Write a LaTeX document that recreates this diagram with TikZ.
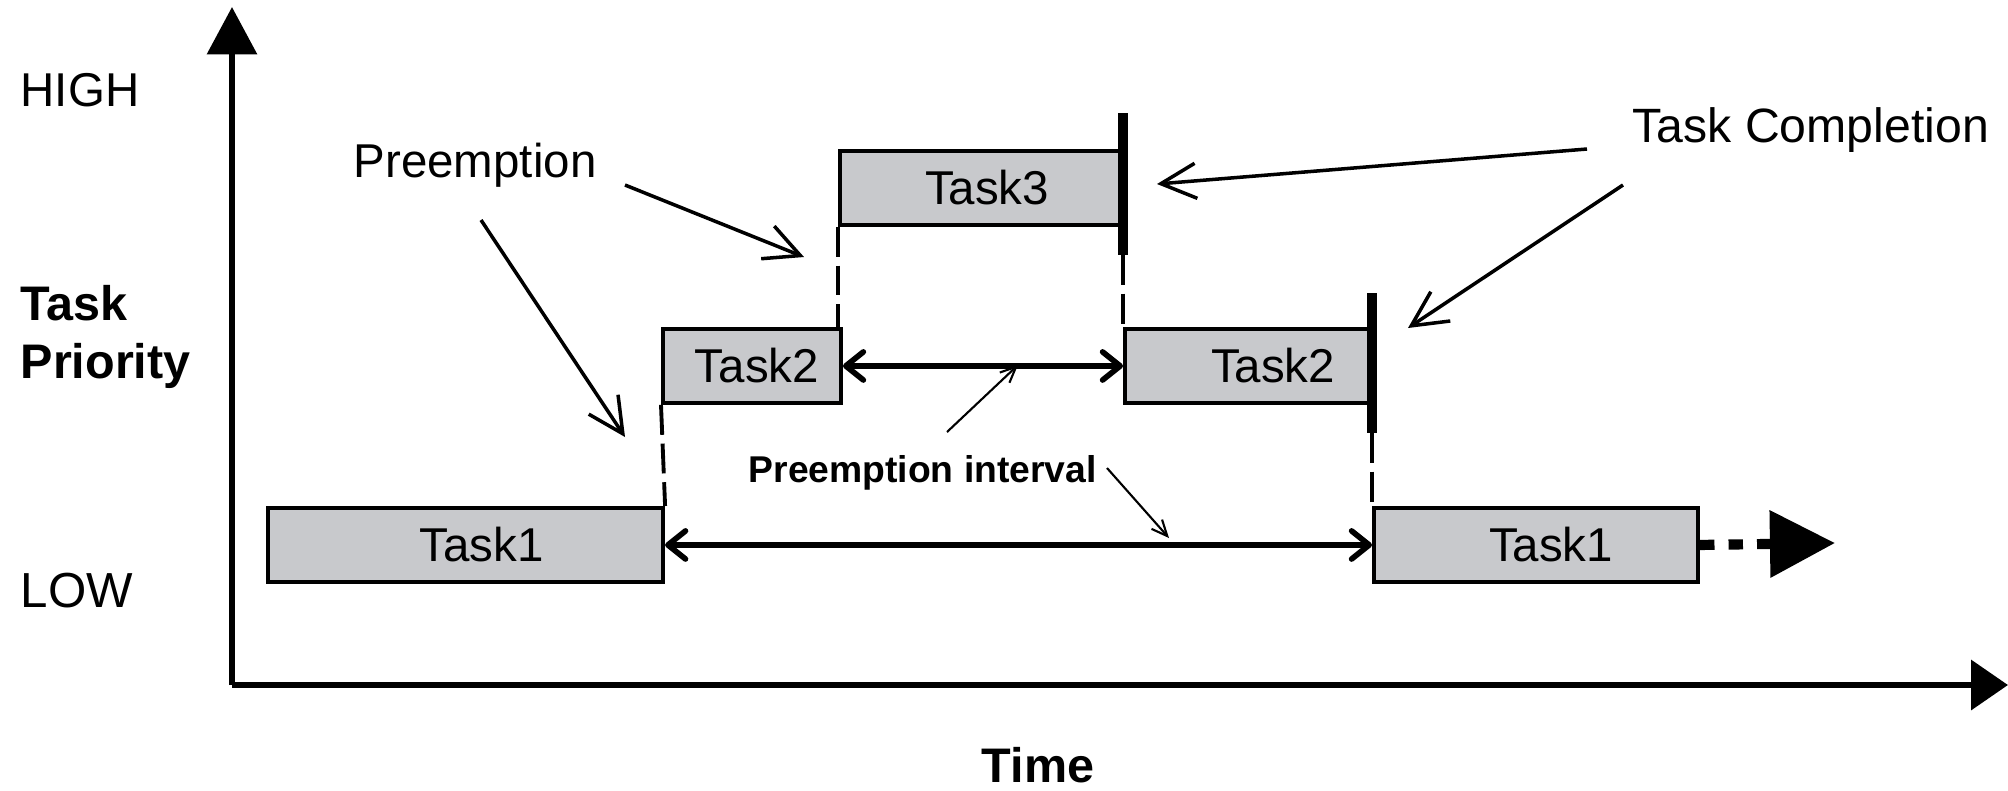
\documentclass[tikz,border=0pt]{standalone}
\usepackage{fontspec}
\setmainfont{Liberation Sans}
\usetikzlibrary{arrows.meta}
\definecolor{boxgray}{RGB}{200,201,204}
\begin{document}
\begin{tikzpicture}[x=0.01cm,y=-0.01cm,
  task/.style={draw=black, line width=1.1pt, fill=boxgray, inner sep=0pt,
    anchor=north west, minimum height=0.74cm,
    font=\fontsize{13.5}{16}\selectfont},
  lbl/.style={anchor=base west, inner sep=0pt, font=\fontsize{13.5}{16}\selectfont},
  blbl/.style={anchor=base west, inner sep=0pt, font=\fontsize{13.8}{16}\selectfont\bfseries},
  axis/.style={line width=1.7pt, -{Triangle[length=13.5pt,width=14pt]}},
  bar/.style={line width=2.9pt},
  guide/.style={line width=1.1pt, dash pattern=on 8.5pt off 2.5pt},
  interval/.style={line width=1.6pt, {Straight Barb[length=5pt,width=8pt,round]}-{Straight Barb[length=5pt,width=8pt,round]}},
  callout/.style={line width=1pt, -{Straight Barb[length=10pt,width=10pt]}},
  thin/.style={line width=0.6pt, -{Straight Barb[length=4.5pt,width=4pt]}}
]
\path[use as bounding box] (0,0) rectangle (2008,790);

% axes
\coordinate (O) at (232,685);
\coordinate (ytip) at (232,7);
\coordinate (xtip) at (2008,685);
\draw[axis] (O) -- (ytip);
\draw[axis,-{Triangle[length=10.5pt,width=14pt]}] (O) -- (xtip);

% axis labels
\node[lbl] (high) at (20,106) {HIGH};
\node[blbl] (task) at (20,320) {Task};
\node[blbl] (prio) at (20,378) {Priority};
\node[lbl,font=\fontsize{14}{16}\selectfont] (low) at (20,607) {LOW};
\node[blbl,anchor=base] (time) at (1038,782) {Time};

% task boxes
\node[task, minimum width=3.95cm] (t1a) at (266,506) {\hspace*{0.32cm}Task1};
\node[task, minimum width=1.78cm] (t2a) at (661,327) {\hspace*{0.1cm}Task2};
\node[task, minimum width=2.82cm] (t3)  at (838,149) {\hspace*{0.12cm}Task3};
\node[task, minimum width=2.46cm] (t2b) at (1123,327) {\hspace*{0.5cm}Task2};
\node[task, minimum width=3.24cm] (t1b) at (1372,506) {\hspace*{0.3cm}Task1};

% completion bars
\coordinate (b1t) at (1123,113);
\coordinate (b1b) at (1123,255);
\coordinate (b2t) at (1372,293);
\coordinate (b2b) at (1372,433);
\draw[bar] (b1t) -- (b1b);
\draw[bar] (b2t) -- (b2b);

% dashed guides
\draw[guide] (t2a.south west) -- (t1a.north east);
\draw[guide] (t3.south west) -- (t3.south west |- t2a.north);
\draw[guide] (b1b) -- (t2b.north west);
\draw[guide] (b2b) -- (t1b.north west);

% continuation
\coordinate (cont) at (1835,543);
\draw[line width=2.9pt, dash pattern=on 4.1pt off 4pt,
  -{Triangle[length=18.5pt,width=18.5pt]}] (t1b.east) -- (cont);

% preemption intervals
\draw[interval] (t2a.east) -- (t2b.west);
\draw[interval] (t1a.east) -- (t1b.west);
\node[anchor=base west, inner sep=0pt, font=\fontsize{10.6}{12}\selectfont\bfseries] (pil) at (748,482) {Preemption interval};
\coordinate (i1s) at (947,432);
\coordinate (i1e) at (1018,365);
\coordinate (i2s) at (1107,468);
\coordinate (i2e) at (1169,538);
\draw[thin] (i1s) -- (i1e);
\draw[thin] (i2s) -- (i2e);

% preemption callouts
\node[lbl] (pre) at (353,177) {Preemption};
\coordinate (p1s) at (481,220);
\coordinate (p1e) at (625,437);
\coordinate (p2s) at (625,185);
\coordinate (p2e) at (804,257);
\draw[callout] (p1s) -- (p1e);
\draw[callout] (p2s) -- (p2e);

% completion callouts
\node[lbl,font=\fontsize{13.7}{16}\selectfont] (tc) at (1632,142) {Task Completion};
\coordinate (c1s) at (1587,149);
\coordinate (c1e) at (1157,184);
\coordinate (c2s) at (1623,185);
\coordinate (c2e) at (1408,328);
\draw[callout] (c1s) -- (c1e);
\draw[callout] (c2s) -- (c2e);
\end{tikzpicture}
\end{document}
